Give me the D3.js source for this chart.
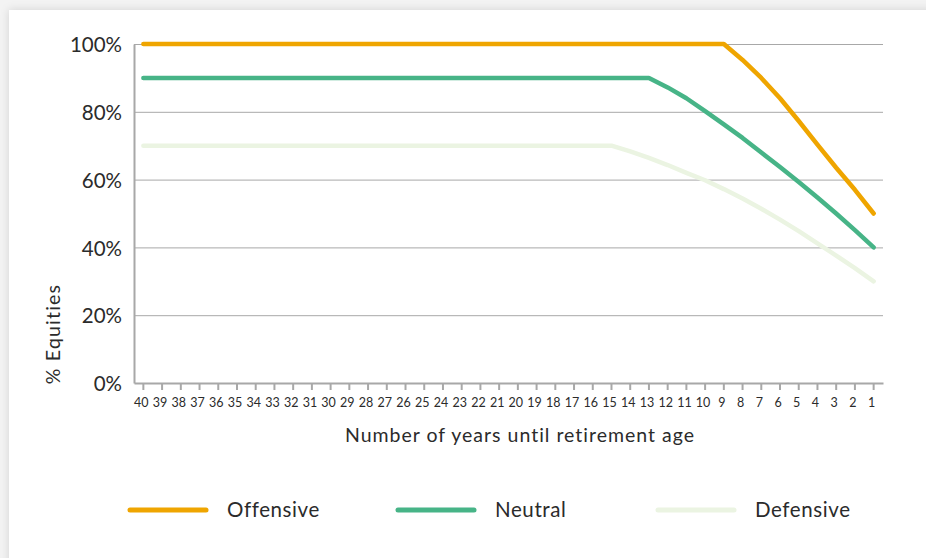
<!DOCTYPE html>
<html>
<head>
<meta charset="utf-8">
<script src="https://cdn.jsdelivr.net/npm/d3@7"></script>
<style>
  html, body { margin: 0; padding: 0; background: #f3f3f3; }
  svg { display: block; }
  text { font-family: Lato, "Open Sans", sans-serif; font-weight: 400; fill: #2b2b2b; }
</style>
</head>
<body>
<svg id="chart" width="926" height="558"></svg>
<script>
// Years until retirement age (x categories)
const years = [40, 39, 38, 37, 36, 35, 34, 33, 32, 31, 30, 29, 28, 27, 26, 25, 24, 23, 22, 21,
               20, 19, 18, 17, 16, 15, 14, 13, 12, 11, 10, 9, 8, 7, 6, 5, 4, 3, 2, 1];

// Share of equities (%) per year, one array per profile
const offensive = [100, 100, 100, 100, 100, 100, 100, 100, 100, 100,
                   100, 100, 100, 100, 100, 100, 100, 100, 100, 100,
                   100, 100, 100, 100, 100, 100, 100, 100, 100, 100,
                   100, 100, 95.3, 90, 84, 77.3, 70.3, 63.5, 57, 50];
const neutral   = [90, 90, 90, 90, 90, 90, 90, 90, 90, 90,
                   90, 90, 90, 90, 90, 90, 90, 90, 90, 90,
                   90, 90, 90, 90, 90, 90, 90, 90, 87.2, 84,
                   80.2, 76.3, 72.3, 68, 63.7, 59.3, 54.7, 50, 45.1, 40];
const defensive = [70, 70, 70, 70, 70, 70, 70, 70, 70, 70,
                   70, 70, 70, 70, 70, 70, 70, 70, 70, 70,
                   70, 70, 70, 70, 70, 70, 68.3, 66.4, 64.3, 62,
                   59.8, 57.2, 54.4, 51.4, 48.2, 44.8, 41.2, 37.6, 33.9, 30];

const yTicks = [0, 20, 40, 60, 80, 100];
const seriesNames = ["Offensive", "Neutral", "Defensive"];
const seriesColors = ["#efa500", "#47b487", "#ebf4e2"];
const seriesValues = [offensive, neutral, defensive];

const svg = d3.select("#chart");

// Card with soft shadow
const defs = svg.append("defs");
const f = defs.append("filter").attr("id", "shadow")
  .attr("x", "-5%").attr("y", "-5%").attr("width", "110%").attr("height", "110%");
f.append("feDropShadow").attr("dx", 0).attr("dy", 0)
  .attr("stdDeviation", 4).attr("flood-color", "#000").attr("flood-opacity", 0.14);
svg.append("rect").attr("x", 9).attr("y", 10).attr("width", 960).attr("height", 600)
  .attr("fill", "#ffffff").attr("filter", "url(#shadow)");

const plotLeft = 134, plotRight = 883, plotTop = 44, plotBottom = 383;

const x = d3.scaleBand().domain(years).range([plotLeft, plotRight]).padding(0);
const y = d3.scaleLinear().domain([0, 100]).range([plotBottom, plotTop]);
const cx = d => x(d) + x.bandwidth() / 2;

// Horizontal gridlines
svg.append("g")
  .attr("transform", `translate(${plotLeft},0)`)
  .call(d3.axisRight(y).tickValues(yTicks.filter(v => v > 0)).tickSize(plotRight - plotLeft).tickFormat(""))
  .call(g => g.select(".domain").remove())
  .call(g => g.selectAll(".tick line").attr("stroke", "#a8a8a8").attr("stroke-width", 1));

// Y axis
svg.append("g")
  .attr("transform", `translate(${plotLeft},0)`)
  .call(d3.axisLeft(y).tickValues(yTicks).tickSize(0).tickPadding(12).tickFormat(d => d + "%"))
  .call(g => g.select(".domain").attr("stroke", "#a8a8a8").attr("stroke-width", 2))
  .call(g => g.selectAll(".tick text")
    .attr("font-size", 20.5).attr("fill", "#2b2b2b")
    .attr("font-family", null).attr("dy", "0.38em"));

// X axis
svg.append("g")
  .attr("transform", `translate(0,${plotBottom})`)
  .call(d3.axisBottom(x).tickSizeInner(7).tickSizeOuter(0).tickPadding(8))
  .call(g => g.select(".domain").attr("stroke", "#a8a8a8").attr("stroke-width", 2))
  .call(g => g.selectAll(".tick line").attr("stroke", "#a8a8a8").attr("stroke-width", 2))
  .call(g => g.selectAll(".tick text")
    .attr("font-size", 12.5).attr("fill", "#2b2b2b")
    .attr("font-family", null).attr("dx", -2));

// Axis titles
svg.append("text")
  .attr("x", 520).attr("y", 442)
  .attr("text-anchor", "middle")
  .attr("font-size", 19.5)
  .attr("letter-spacing", 1)
  .text("Number of years until retirement age");

svg.append("text")
  .attr("transform", "translate(60,334) rotate(-90)")
  .attr("text-anchor", "middle")
  .attr("font-size", 19.5)
  .attr("letter-spacing", 1.2)
  .text("% Equities");

// Series lines (lightest first so the stronger colours sit on top)
const line = d3.line().x((d, i) => cx(years[i])).y(d => y(d));
[2, 1, 0].forEach(k => {
  svg.append("path")
    .datum(seriesValues[k])
    .attr("d", line)
    .attr("fill", "none")
    .attr("stroke", seriesColors[k])
    .attr("stroke-width", 4.5)
    .attr("stroke-linecap", "round")
    .attr("stroke-linejoin", "round");
});

// Legend
const legendX = [130, 398, 658];
const legend = svg.append("g");
seriesNames.forEach((name, k) => {
  legend.append("line")
    .attr("x1", legendX[k]).attr("x2", legendX[k] + 76)
    .attr("y1", 510).attr("y2", 510)
    .attr("stroke", seriesColors[k]).attr("stroke-width", 5)
    .attr("stroke-linecap", "round");
  legend.append("text")
    .attr("x", legendX[k] + 97).attr("y", 517)
    .attr("font-size", 20.5)
    .attr("letter-spacing", 0.6)
    .text(name);
});
</script>
</body>
</html>
